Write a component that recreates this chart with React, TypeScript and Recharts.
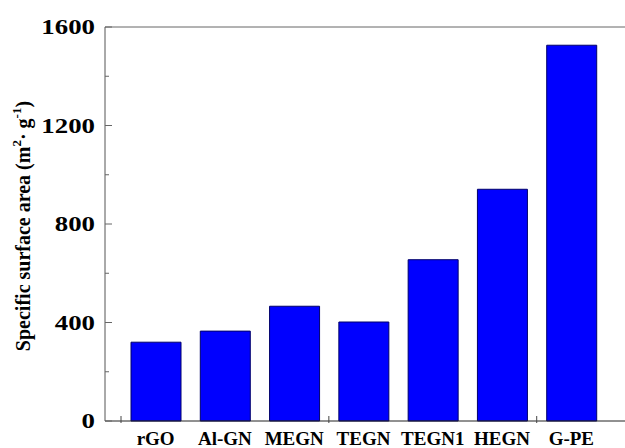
import { BarChart, Bar, XAxis, YAxis, ReferenceLine } from "recharts"

// 样品比表面积
const samples = ["rGO", "Al-GN", "MEGN", "TEGN", "TEGN1", "HEGN", "G-PE"]
const surfaceArea = [320, 365, 466, 402, 655, 941, 1526]
const yTicks = [0, 200, 400, 600, 800, 1000, 1200, 1400, 1600]
const yLabelTicks = [0, 400, 800, 1200, 1600]
const edgeTickIndexes = [0, 3, 6]

const data = samples.map((name, i) => ({ name, area: surfaceArea[i] }))

const serif = "'Times New Roman', 'Liberation Serif', serif"

const YTick = (props: any) => {
  const { x, y, payload } = props
  const major = yLabelTicks.includes(payload.value)
  return (
    <g>
      <line x1={x} y1={y} x2={x + (major ? 7 : 4)} y2={y} stroke="#666" strokeWidth={1} />
      {major && (
        <g transform={`translate(${x - 10}, ${y}) scale(1.22, 1)`}>
          <text x={0} y={0} dy={7} textAnchor="end" fontFamily={serif} fontWeight="bold" fontSize={22} fill="#000">
            {payload.value}
          </text>
        </g>
      )}
    </g>
  )
}

const XTick = (props: any) => {
  const { x, y, payload, index } = props
  const half = payload.offset ?? 34.6
  return (
    <g>
      {edgeTickIndexes.includes(index) && (
        <line x1={x - half} y1={y} x2={x - half} y2={y - 7} stroke="#444" strokeWidth={1} />
      )}
      <text x={x} y={y} dy={22} textAnchor="middle" fontFamily={serif} fontWeight="bold" fontSize={19} fill="#000">
        {payload.value}
      </text>
    </g>
  )
}

const YTitle = (props: any) => {
  const vb = props.viewBox || { y: 27, height: 394 }
  const cx = 23
  const cy = vb.y + vb.height / 2 + 2
  return (
    <text
      x={cx}
      y={cy}
      transform={`rotate(-90, ${cx}, ${cy})`}
      textAnchor="middle"
      dominantBaseline="central"
      fontFamily={serif}
      fontWeight="bold"
      fontSize={20}
      fill="#000"
    >
      Specific surface area (m
      <tspan fontSize={13} dy={-7}>2</tspan>
      <tspan dy={7}>· g</tspan>
      <tspan fontSize={13} dy={-7}>-1</tspan>
      <tspan dy={7}>)</tspan>
    </text>
  )
}

export default function App() {
  return (
    <div style={{ position: "absolute", left: 0, top: 0, width: 625, height: 448, overflow: "hidden", background: "#fff" }}>
      <BarChart width={640} height={448} data={data} margin={{ top: 27, right: 10, bottom: 0, left: 0 }}>
        <XAxis
          dataKey="name"
          height={27}
          padding={{ left: 16, right: 24 }}
          axisLine={{ stroke: "#222", strokeWidth: 1 }}
          tickLine={false}
          tickSize={0}
          tick={<XTick />}
          interval={0}
        />
        <YAxis
          width={105}
          domain={[0, 1600]}
          ticks={yTicks}
          interval={0}
          axisLine={{ stroke: "#555", strokeWidth: 1 }}
          tickLine={false}
          tickSize={0}
          tickMargin={0}
          tick={<YTick />}
          label={{ content: <YTitle /> }}
        />
        <ReferenceLine y={1600} stroke="#666" strokeWidth={1} />
        <Bar dataKey="area" barSize={50} fill="#0000FF" stroke="#00006A" strokeWidth={1} isAnimationActive={false} />
      </BarChart>
    </div>
  )
}
